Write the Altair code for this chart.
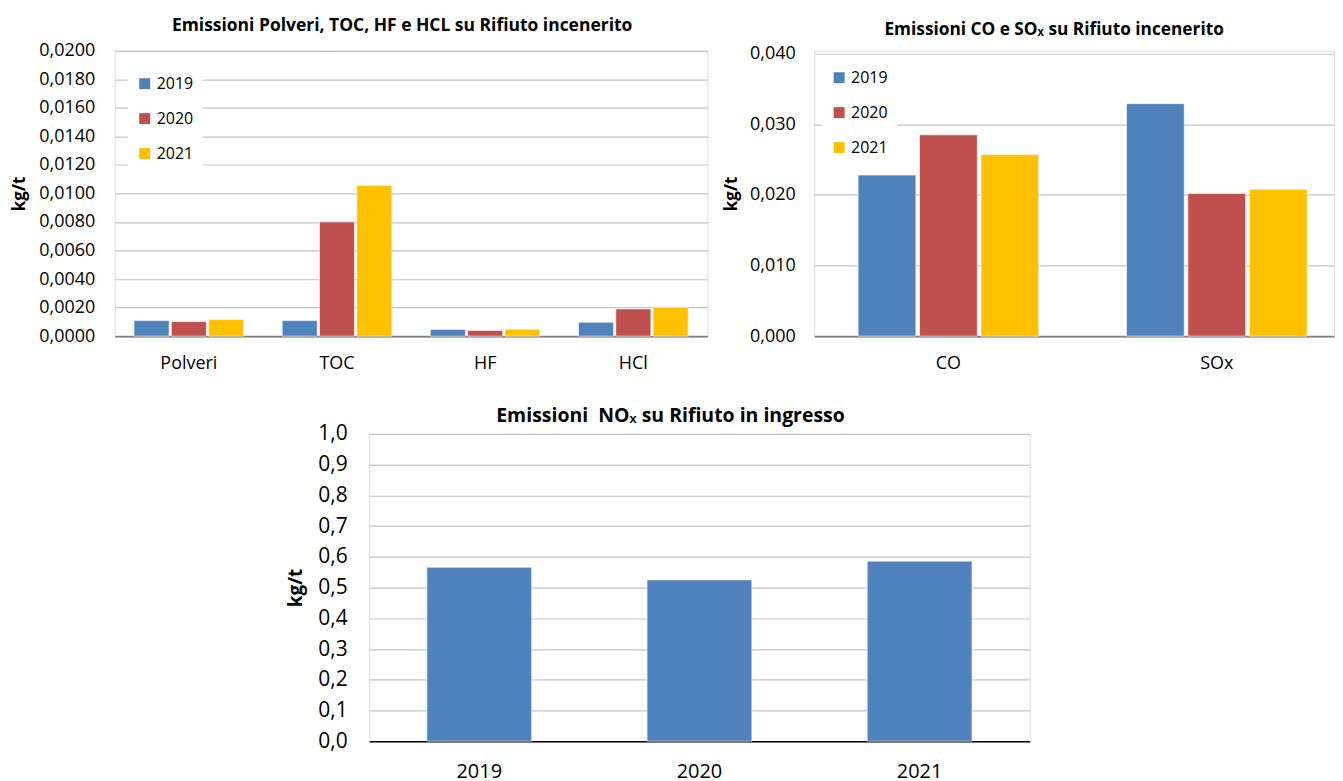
import altair as alt
import pandas as pd

FONT = "Open Sans, sans-serif"
BLUE, RED, YEL = "#4F81BD", "#C0504D", "#FFC000"
GRID = "#C4C4C4"

years = ["2019", "2020", "2021"]

# Chart 1: Polveri, TOC, HF, HCl (kg/t)
cats1 = ["Polveri", "TOC", "HF", "HCl"]
v2019_1 = [0.00109, 0.00109, 0.00047, 0.00097]
v2020_1 = [0.00102, 0.00801, 0.00040, 0.00191]
v2021_1 = [0.00116, 0.01057, 0.00049, 0.00202]
ticks1 = [0.0, 0.002, 0.004, 0.006, 0.008, 0.010, 0.012, 0.014, 0.016, 0.018, 0.020]

# Chart 2: CO, SOx (kg/t)
cats2 = ["CO", "SOx"]
v2019_2 = [0.0228, 0.0329]
v2020_2 = [0.0285, 0.0202]
v2021_2 = [0.0257, 0.0208]
ticks2 = [0.0, 0.01, 0.02, 0.03, 0.04]

# Chart 3: NOx (kg/t)
nox = [0.566, 0.525, 0.586]
ticks3 = [0.0, 0.1, 0.2, 0.3, 0.4, 0.5, 0.6, 0.7, 0.8, 0.9, 1.0]


def long_df(cats, series):
    rows = []
    for y, vals in zip(years, series):
        for c, v in zip(cats, vals):
            rows.append({"cat": c, "year": y, "val": v})
    return pd.DataFrame(rows)


df1 = long_df(cats1, [v2019_1, v2020_1, v2021_1])
df2 = long_df(cats2, [v2019_2, v2020_2, v2021_2])
df3 = pd.DataFrame({"year": years, "val": nox})


def legend(x, y):
    return alt.Legend(title=None, orient="none", legendX=x, legendY=y,
                      symbolType="square", symbolSize=121, symbolStrokeWidth=0,
                      rowPadding=19, labelFontSize=16, labelFont=FONT,
                      labelColor="black", fillColor="white", padding=9,
                      labelOffset=4)


def yaxis(fmt, vals, size, tsize, lp, tp):
    return alt.Axis(values=vals, labelExpr="replace(format(datum.value, '%s'), '.', ',')" % fmt,
                    title="kg/t", titleFont=FONT, titleFontSize=tsize, titleFontWeight="bold",
                    titleColor="black", titlePadding=tp, labelFont=FONT, labelFontSize=size,
                    labelColor="black", labelPadding=lp, ticks=False, domain=False,
                    grid=True, gridColor=GRID, gridWidth=1.2)


def xaxis(size, lp, dcol):
    return alt.Axis(labelAngle=0, ticks=False, domainColor=dcol, domainWidth=1.6,
                    labelFont=FONT, labelFontSize=size, labelColor="black",
                    labelPadding=lp, grid=False)


c1 = alt.Chart(df1).mark_bar(stroke="white", strokeWidth=0.6).encode(
    x=alt.X("cat:N", sort=cats1, title=None,
            scale=alt.Scale(paddingInner=0.26, paddingOuter=0.13), axis=xaxis(18, 18, "#7F7F7F")),
    xOffset=alt.XOffset("year:N", sort=years, scale=alt.Scale(paddingInner=0.06)),
    y=alt.Y("val:Q", scale=alt.Scale(domain=[0, 0.02], nice=False),
            axis=yaxis(".4f", ticks1, 18, 17, 20, 10)),
    color=alt.Color("year:N", scale=alt.Scale(domain=years, range=[BLUE, RED, YEL]),
                    legend=legend(13, 16)),
).properties(
    width=594, height=286,
    title=alt.Title("Emissioni Polveri, TOC, HF e HCL su Rifiuto incenerito",
                    font=FONT, fontSize=17.5, fontWeight="bold", color="black", offset=7, dx=-9),
)

c2 = alt.Chart(df2).mark_bar(stroke="white", strokeWidth=0.6).encode(
    x=alt.X("cat:N", sort=cats2, title=None,
            scale=alt.Scale(paddingInner=0.327, paddingOuter=0.132, align=0.62),
            axis=xaxis(18, 18, "#7F7F7F")),
    xOffset=alt.XOffset("year:N", sort=years, scale=alt.Scale(paddingInner=0.06)),
    y=alt.Y("val:Q", scale=alt.Scale(domain=[0, 0.0404], nice=False),
            axis=yaxis(".3f", ticks2, 18, 17, 19, 9)),
    color=alt.Color("year:N", scale=alt.Scale(domain=years, range=[BLUE, RED, YEL]),
                    legend=legend(8, 10)),
).properties(
    width=521, height=286,
    title=alt.Title("Emissioni CO e SOₓ su Rifiuto incenerito",
                    font=FONT, fontSize=17.3, fontWeight="bold", color="black", offset=6, dx=-20),
)

c3 = alt.Chart(df3).mark_bar(color=BLUE, stroke="white", strokeWidth=0.6).encode(
    x=alt.X("year:N", sort=years, title=None,
            scale=alt.Scale(paddingInner=0.524, paddingOuter=0.262), axis=xaxis(20, 20, "#000000")),
    y=alt.Y("val:Q", scale=alt.Scale(domain=[0, 1], nice=False),
            axis=yaxis(".1f", ticks3, 21, 19, 22, 12)),
).properties(
    width=662, height=308,
    title=alt.Title("Emissioni\u00a0 NOₓ su Rifiuto in ingresso",
                    font=FONT, fontSize=19.5, fontWeight="bold", color="black", offset=-4, dx=-29),
)

spacer = alt.Chart(pd.DataFrame({"a": [0]})).mark_point(opacity=0, size=1).encode(
    x=alt.value(0), y=alt.value(0)
).properties(width=255, height=10, view=alt.ViewBackground(stroke="transparent", fill="transparent"))

top = alt.hconcat(c1, c2, spacing=107, bounds="flush").resolve_scale(
    color="independent", xOffset="independent").resolve_legend(color="independent")
bottom = alt.hconcat(spacer, c3, spacing=0, bounds="flush")

chart = alt.vconcat(top, bottom, spacing=33).properties(
    padding={"top": 8, "left": 2, "right": 0, "bottom": 0}
).configure_view(strokeWidth=0, stroke="transparent").configure(background="white")

chart.save("out.html", embed_options={"renderer": "svg", "actions": False})
